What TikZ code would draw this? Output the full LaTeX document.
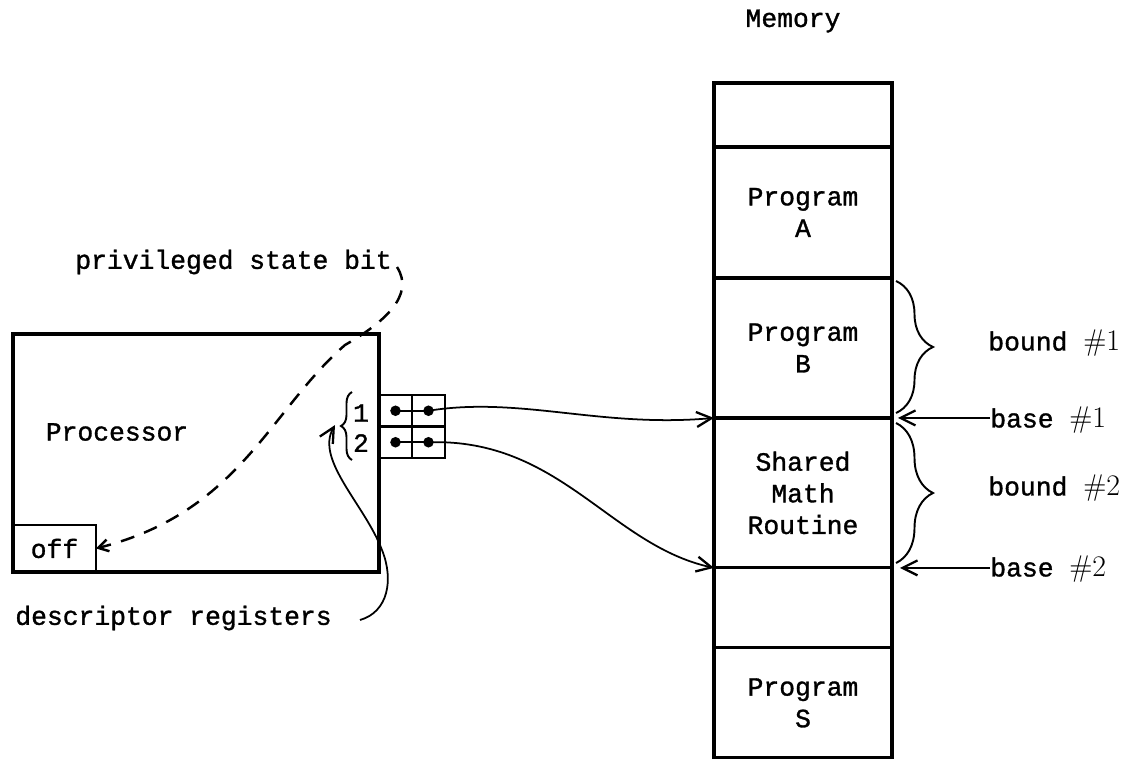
\documentclass[tikz,border=0pt]{standalone}
\usepackage{fontspec}
\setmonofont{Liberation Mono}[FakeBold=1.2]
\usetikzlibrary{arrows.meta,positioning,decorations.pathreplacing,calc}

\begin{document}
\begin{tikzpicture}[
  x=0.02cm, y=-0.02cm,
  txt/.style={font=\ttfamily\fontsize{15}{18}\selectfont,inner sep=0pt},
  cell/.style={txt,draw,line width=1.8pt,outer sep=0pt,minimum width=3.56cm,align=center},
  frame/.style={draw,line width=1.8pt,outer sep=0pt},
  regcell/.style={draw,line width=1.5pt,outer sep=0pt,minimum width=0.66cm,minimum height=0.63cm,inner sep=0pt},
  ptr/.style={-{Straight Barb[length=3mm,width=3mm,line width=1.3pt]},line width=1pt},
  hint/.style={dashed,dash pattern=on 8pt off 6pt,line width=1.4pt,-{Straight Barb[length=2mm,width=2.4mm]}},
  curly/.style={decorate,decoration={brace,amplitude=#1},line width=1.1pt}
]
  \useasboundingbox (0,0) rectangle (1129,761);

  % memory column
  \node[txt] (memtitle) at (793,21) {Memory};
  \node[cell,minimum height=1.28cm,anchor=north west] (free1) at (714,83) {};
  \node[cell,minimum height=2.62cm,below=0pt of free1] (progA) {Program\\A};
  \node[cell,minimum height=2.80cm,below=0pt of progA] (progB) {Program\\B};
  \node[cell,minimum height=3.00cm,below=0pt of progB] (shared) {Shared\\Math\\Routine};
  \node[cell,minimum height=1.60cm,below=0pt of shared] (free2) {};
  \node[cell,minimum height=2.20cm,below=0pt of free2] (progS) {Program\\S};

  % processor
  \node[frame,minimum width=7.32cm,minimum height=4.76cm,anchor=north west] (proc) at (13,334) {};
  \node[txt] (proclabel) at (117,432) {Processor};
  \node[txt,frame,line width=1.5pt,minimum width=1.66cm,minimum height=0.94cm,anchor=south west] (off) at (proc.south west) {off};

  % descriptor registers
  \node[regcell,anchor=north west] (r1a) at (379,395) {};
  \node[regcell,right=0pt of r1a] (r1b) {};
  \node[regcell,below=0pt of r1a] (r2a) {};
  \node[regcell,right=0pt of r2a] (r2b) {};
  \foreach \r in {r1,r2} {
    \fill (\r a.center) circle (3pt) (\r b.center) circle (3pt);
    \draw[line width=1.3pt] (\r a.center) -- (\r b.center);
  }
  \node[txt] (one) at (361,413) {1};
  \node[txt] (two) at (361,443) {2};
  \draw[curly=0.22cm] (352,460) -- (352,392);

  % pointers into memory
  \draw[ptr] (r1b.center) .. controls (520,396) and (600,428) .. (shared.north west);
  \draw[ptr] (r2b.center) .. controls (560,438) and (610,545) .. (shared.south west);

  % bounds and bases
  \draw[curly=0.74cm] (896,281) -- (896,413);
  \draw[curly=0.74cm] (896,423) -- (896,563);
  \node[txt,anchor=west] (bound1) at (988,343) {bound {\rmfamily\fontsize{17}{20}\selectfont\#1}};
  \node[txt,anchor=west] (bound2) at (988,488) {bound {\rmfamily\fontsize{17}{20}\selectfont\#2}};
  \node[txt,anchor=west] (base1) at (990,420) {base {\rmfamily\fontsize{17}{20}\selectfont\#1}};
  \node[txt,anchor=west] (base2) at (990,569) {base {\rmfamily\fontsize{17}{20}\selectfont\#2}};
  \draw[ptr] (base1.west |- shared.north east) -- ($(shared.north east)+(6,0)$);
  \draw[ptr] (base2.west |- shared.south east) -- ($(shared.south east)+(8,0)$);

  % annotations
  \node[txt,anchor=west] (priv) at (75,262) {privileged state bit};
  \draw[hint] (397,267) .. controls (415,295) and (385,322) .. (345,345)
    .. controls (270,410) and (240,512) .. (off.east);
  \node[txt,anchor=west] (desc) at (15,618) {descriptor registers};
  \draw[ptr] ($(desc.east)+(28,2)$) .. controls (388,612) and (394,580) .. (382,550)
    .. controls (365,505) and (315,460) .. (335,425);
\end{tikzpicture}
\end{document}
